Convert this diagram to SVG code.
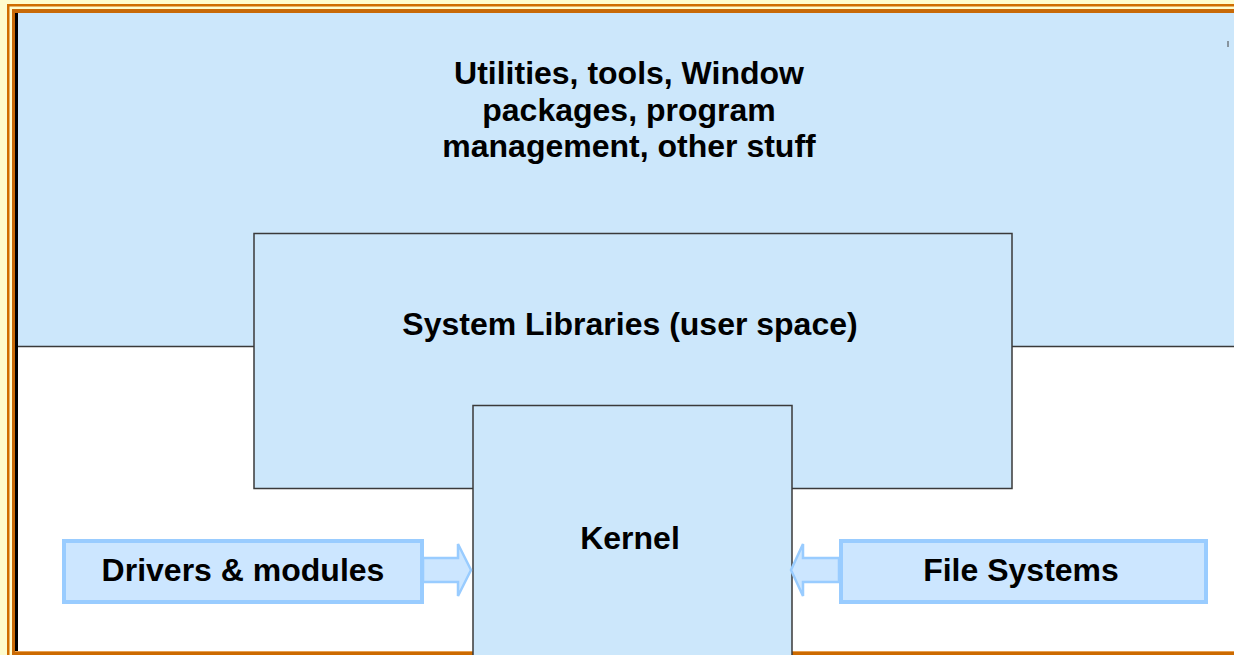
<svg xmlns="http://www.w3.org/2000/svg" width="1234" height="655" viewBox="0 0 1234 655">
<defs>
<style>
.lbl{font-family:"Liberation Sans",Arial,sans-serif;font-weight:bold;font-size:32px;fill:#000;text-anchor:middle}
.layer{fill:#cce7fb;stroke:#3a3a3a;stroke-width:1.5}
.side{fill:#cce6ff;stroke:#99ccff;stroke-width:4}
.arr{fill:#cce6ff;stroke:#99ccff;stroke-width:2.5;stroke-linejoin:miter}
</style>
</defs>
<rect x="0" y="0" width="1234" height="655" fill="#ffffff"/>
<!-- frame -->
<g id="frame">
<rect x="0" y="0" width="1234" height="13" fill="#fffccc"/>
<rect x="0" y="0" width="15" height="655" fill="#fffccc"/>
<rect x="7" y="4" width="1227" height="2.5" fill="#d06d00"/>
<rect x="7" y="4" width="2.5" height="651" fill="#d06d00"/>
<rect x="12" y="9" width="1222" height="4" fill="#c86a08"/>
<rect x="12" y="9" width="3" height="646" fill="#c86a08"/>
<rect x="15" y="13" width="3" height="640" fill="#000"/>
<rect x="15" y="651" width="1219" height="4" fill="#cc6a00"/>
<rect x="15" y="651" width="1219" height="1" fill="#e8a050"/>
</g>
<g id="utilities">
<rect x="18" y="13" width="1216" height="333" fill="#cce7fb"/>
<line x1="18" y1="346.5" x2="1234" y2="346.5" stroke="#3a3a3a" stroke-width="1.5"/>
<line x1="1228" y1="41" x2="1228" y2="47" stroke="#444" stroke-width="1"/>
<text class="lbl" x="629" y="84">Utilities, tools, Window</text>
<text class="lbl" x="629" y="121">packages, program</text>
<text class="lbl" x="629" y="157">management, other stuff</text>
</g>
<g id="syslib">
<rect class="layer" x="254" y="233.5" width="758" height="255"/>
<text class="lbl" x="630" y="335">System Libraries (user space)</text>
</g>
<g id="kernel">
<rect class="layer" x="473" y="405.5" width="319" height="260"/>
<text class="lbl" x="630" y="549">Kernel</text>
</g>
<g id="drivers">
<rect class="side" x="64" y="541" width="358" height="61"/>
<text class="lbl" x="243" y="581">Drivers &amp; modules</text>
</g>
<g id="filesystems">
<rect class="side" x="841" y="541" width="365" height="61"/>
<text class="lbl" x="1021" y="581">File Systems</text>
</g>
<g id="connectors">
<polygon class="arr" points="423,558 458,558 458,544 471,570 458,596 458,582 423,582"/>
<polygon class="arr" points="839,558 803,558 803,544 791,570 803,596 803,582 839,582"/>
</g>
</svg>
